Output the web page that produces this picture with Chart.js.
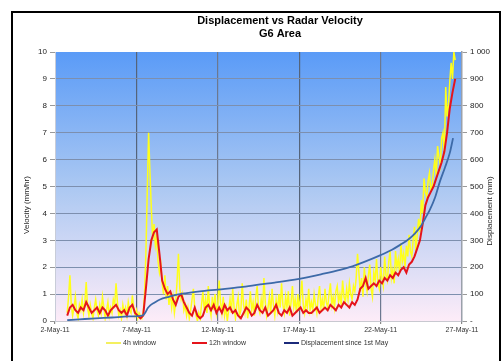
<!DOCTYPE html>
<html><head><meta charset="utf-8">
<script src="https://cdn.jsdelivr.net/npm/chart.js@4"></script>
<style>
html,body{margin:0;padding:0;background:#fff;}
#wrap{position:absolute;left:0;top:0;width:501px;height:361px;}
#frame{position:absolute;left:11px;top:11px;width:486px;height:360px;border:2px solid #000;border-bottom:none;pointer-events:none;}
</style></head>
<body>
<div id="wrap"><canvas id="c" width="501" height="361"></canvas></div>
<div id="frame"></div>
<script>
// ---- data ----
const titleLines = ['Displacement vs Radar Velocity', 'G6 Area'];
const seriesNames = ['4h window', '12h window', 'Displacement since 1st May'];
const xTickDays = [2, 7, 12, 17, 22, 27];
const xTickLabels = ['2-May-11', '7-May-11', '12-May-11', '17-May-11', '22-May-11', '27-May-11'];
const leftTickLabels = ['0','1','2','3','4','5','6','7','8','9','10'];
const rightTickLabels = ['-','100','200','300','400','500','600','700','800','900','1 000'];
const leftTitle = 'Velocity (mm/hr)';
const rightTitle = 'Displacement (mm)';
// sample times (days of month)
const sampleStart = 2.75;
const step4h = 1/12;   // 4h-window series is plotted every 2 hours
const step12h = 1/6;   // 12h-window series is plotted every 4 hours
const vel4h = [
 0.3,0.9,1.7,0.6,0.2,0.5,0.9,0.3,0.1,0.6,
 0.4,0.8,0.3,0.7,1.45,0.5,0.2,0.6,0.3,0.1,
 0.5,0.8,0.4,0.2,0.6,0.3,0.9,0.5,0.1,0.4,
 0.7,0.2,0.5,0.3,0.8,0.6,1.4,0.7,0.2,0.4,
 0.1,0.6,0.3,0.5,0.2,0.7,0.4,0.3,0.95,0.5,
 0.2,0.4,0.1,0.3,0.2,0.1,0.3,
 1.0,2.5,4.8,7.0,5.5,4.2,3.0,3.6,2.8,3.1,
 2.2,1.8,2.1,1.4,1.0,1.7,0.8,1.3,0.6,1.1,
 0.5,0.9,0.3,0.7,1.5,2.5,1.2,0.8,1.0,0.4,
 0.6,0.2,0.5,0.1,0.4,0.8,1.2,0.5,0.2,0.0,
 0.3,0.1,0.6,1.1,0.4,0.8,0.3,1.3,0.5,0.2,
 0.9,0.4,1.0,0.3,0.6,1.5,0.7,0.3,0.9,0.2,
 0.5,0.0,0.4,
 0.8,0.3,1.2,0.5,0.1,0.6,0.9,0.2,0.4,1.4,
 0.6,0.3,0.8,0.1,0.5,1.1,0.4,0.7,0.2,0.9,
 1.3,0.5,0.3,0.8,0.4,1.6,0.7,0.2,0.5,0.9,
 0.3,1.2,0.6,0.2,0.8,0.4,1.0,0.5,1.4,0.6,
 0.3,0.9,0.5,1.1,0.2,0.7,1.3,0.5,0.8,0.3,
 1.0,0.4,0.9,1.5,0.6,0.3,0.8,0.5,1.2,0.4,
 0.7,0.4,1.0,0.6,0.3,0.9,1.3,0.5,0.8,0.4,
 1.2,0.7,0.5,1.0,1.4,0.6,0.9,0.5,1.1,1.3,
 0.7,1.0,0.6,1.5,0.9,0.7,1.2,0.8,1.4,1.0,
 0.8,1.3,1.1,1.6,
 2.5,1.8,1.1,1.6,0.9,2.0,1.4,1.1,1.7,2.1,
 1.2,0.9,1.8,1.5,2.3,1.4,1.2,2.0,1.6,1.3,
 2.4,1.7,1.5,2.2,2.6,1.6,1.9,1.4,2.6,2.0,
 2.3,1.8,2.9,2.2,2.5,2.0,2.8,2.4,3.2,2.6,
 2.4,
 3.0,3.5,2.6,3.2,3.8,3.3,4.5,4.0,5.3,4.8,
 4.6,5.2,5.5,4.9,5.0,5.6,6.0,5.4,6.5,6.1,
 5.8,6.8,7.0,6.2,8.7,7.6,8.0,8.9,9.6,9.0,
 10.0,9.7
];
const vel12h = [
 0.2,0.5,0.6,0.4,0.3,0.5,0.4,0.7,0.5,0.3,
 0.4,0.5,0.3,0.5,0.4,0.2,0.4,0.5,0.6,0.4,
 0.3,0.4,0.2,0.5,0.6,0.3,0.2,0.1,0.2,1.2,
 2.3,3.0,3.3,3.4,2.5,1.5,1.2,1.0,1.1,0.8,
 0.6,0.9,1.0,0.7,0.5,0.3,0.2,0.5,0.2,0.1,
 0.2,0.5,0.6,0.4,0.6,0.3,0.5,0.3,0.6,0.4,
 0.5,0.3,0.4,0.2,0.1,0.3,0.5,0.4,0.2,0.3,
 0.6,0.4,0.3,0.5,0.2,0.3,0.4,0.6,0.3,0.2,
 0.4,0.3,0.5,0.2,0.3,0.4,0.5,0.3,0.4,0.3,
 0.3,0.4,0.5,0.3,0.4,0.5,0.4,0.6,0.5,0.4,
 0.6,0.5,0.7,0.6,0.5,0.7,0.6,0.8,1.2,1.3,
 1.6,1.2,1.3,1.4,1.3,1.5,1.4,1.6,1.5,1.7,
 1.6,1.8,1.7,1.9,2.0,1.8,2.1,2.2,2.4,2.7,
 3.0,3.6,4.3,4.6,4.8,5.0,5.3,5.6,5.9,6.3,
 7.0,7.9,8.5,9.0
];
const dispDays = [2.75,3.5,4.5,5.5,6.5,7.4,7.55,7.7,7.85,8.1,8.45,9.0,9.5,10.0,10.9,12.0,13.4,14.6,15.5,17.0,18.5,19.5,20.1,21.0,22.0,22.7,23.2,23.7,24.1,24.5,24.75,25.0,25.35,25.65,25.95,26.25,26.45];
const dispMm = [3,6,10,13,17,21,32,48,58,68,80,90,98,103,110,117,126,136,143,157,176,190,200,220,245,265,283,303,325,355,383,410,460,520,570,625,680];

const FONT = '"Liberation Sans", Arial, sans-serif';
const pts = (arr, step) => arr.map((v, i) => ({x: sampleStart + i * step, y: v}));
const dispPts = dispDays.map((d, i) => ({x: d, y: dispMm[i]}));

const bgPlugin = {
  id: 'bg',
  beforeDraw(chart) {
    const {ctx, chartArea: a} = chart;
    const g = ctx.createLinearGradient(0, a.top, 0, a.bottom);
    g.addColorStop(0, '#5a9bf7');
    g.addColorStop(0.5, '#abc8f2');
    g.addColorStop(1, '#fdecf8');
    ctx.save();
    ctx.fillStyle = g;
    ctx.fillRect(a.left, a.top, a.right - a.left, a.bottom - a.top);
    ctx.restore();
  },
  afterDraw(chart) {
    const {ctx} = chart;
    ctx.save();
    ctx.fillStyle = '#000';
    ctx.textAlign = 'center';
    ctx.textBaseline = 'middle';
    ctx.font = 'bold 11px ' + FONT;
    ctx.fillText(titleLines[0], 280, 21);
    ctx.fillText(titleLines[1], 280, 34);
    ctx.font = '8px ' + FONT;
    ctx.fillStyle = '#222';
    ctx.save();
    ctx.translate(27, 205);
    ctx.rotate(-Math.PI / 2);
    ctx.fillText(leftTitle, 0, 0);
    ctx.restore();
    ctx.save();
    ctx.translate(490, 211);
    ctx.rotate(-Math.PI / 2);
    ctx.fillText(rightTitle, 0, 0);
    ctx.restore();
    const items = [
      {x: 106, tx: 123},
      {x: 192, tx: 209},
      {x: 284, tx: 301}
    ];
    ctx.font = '7px ' + FONT;
    ctx.textAlign = 'left';
    chart.data.datasets.forEach((ds, i) => {
      const it = items[i];
      ctx.strokeStyle = ds.legendColor || ds.borderColor;
      ctx.lineWidth = 2;
      ctx.beginPath();
      ctx.moveTo(it.x, 343);
      ctx.lineTo(it.x + 15, 343);
      ctx.stroke();
      ctx.fillStyle = '#333';
      ctx.fillText(ds.label, it.tx, 343);
    });
    ctx.restore();
  }
};

new Chart(document.getElementById('c'), {
  type: 'line',
  data: {
    datasets: [
      {label: seriesNames[0], data: pts(vel4h, step4h), borderColor: '#ffff1a', legendColor: '#f4f060', borderWidth: 1.5, pointRadius: 0, tension: 0, yAxisID: 'y', order: 3},
      {label: seriesNames[1], data: pts(vel12h, step12h), borderColor: '#e5141b', borderWidth: 2, pointRadius: 0, tension: 0, yAxisID: 'y', order: 2},
      {label: seriesNames[2], data: dispPts, borderColor: '#3d6aa8', legendColor: '#1b2a7a', borderWidth: 1.8, pointRadius: 0, cubicInterpolationMode: 'monotone', yAxisID: 'y1', order: 1}
    ]
  },
  options: {
    responsive: false,
    animation: false,
    devicePixelRatio: 1,
    layout: {padding: {top: 52, left: 0, right: 0, bottom: 0}},
    plugins: {legend: {display: false}, title: {display: false}, tooltip: {enabled: false}},
    scales: {
      x: {
        type: 'linear', min: 2, max: 27,
        afterBuildTicks(s) { s.ticks = xTickDays.map(v => ({value: v})); },
        afterFit(s) { s.height = 40; },
        ticks: {
          callback: (v) => xTickLabels[xTickDays.indexOf(v)],
          maxRotation: 0, autoSkip: false, padding: 2,
          font: {family: FONT, size: 7}, color: '#333'
        },
        grid: {
          color: (c) => (c.index === 0 || c.index === 5) ? 'rgba(0,0,0,0)' : ((c.index === 1 || c.index === 3) ? '#55647a' : '#6c7890'),
          lineWidth: 1.2, tickLength: 3, tickColor: '#888'
        },
        border: {display: true, color: '#c8c8d0'}
      },
      y: {
        position: 'left', min: 0, max: 10,
        afterBuildTicks(s) { s.ticks = leftTickLabels.map((t, i) => ({value: i})); },
        afterFit(s) { s.width = 55; },
        ticks: {
          callback: (v) => leftTickLabels[v],
          padding: 3, font: {family: FONT, size: 8}, color: '#222'
        },
        grid: {color: (c) => (c.index === 0 || c.index === 10) ? 'rgba(0,0,0,0)' : '#7d8fae', lineWidth: 1, tickLength: 5, tickColor: '#999'},
        border: {display: true, color: '#c8ccd8'}
      },
      y1: {
        position: 'right', min: 0, max: 1000,
        afterBuildTicks(s) { s.ticks = rightTickLabels.map((t, i) => ({value: i * 100})); },
        afterFit(s) { s.width = 39; },
        ticks: {
          callback: (v) => rightTickLabels[Math.round(v / 100)],
          padding: 3, font: {family: FONT, size: 8}, color: '#222'
        },
        grid: {drawOnChartArea: false, tickLength: 5, tickColor: '#999'},
        border: {display: true, color: '#9aa0aa', width: 1.5}
      }
    }
  },
  plugins: [bgPlugin]
});
</script>
</body></html>
